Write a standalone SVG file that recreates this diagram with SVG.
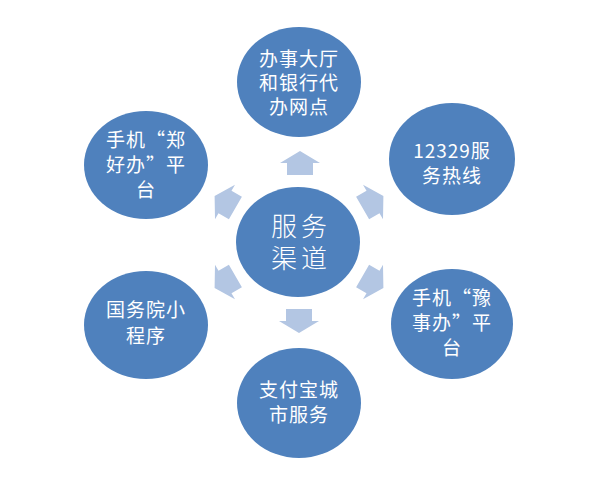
<svg xmlns="http://www.w3.org/2000/svg" width="602" height="481" viewBox="0 0 602 481">
<defs>
<style>
.node{fill:#4F81BD;}
.arr{fill:#B3C6E3;}
.t{fill:#FFFFFF;font-family:"Noto Sans CJK SC","Liberation Sans",sans-serif;font-size:19px;text-anchor:middle;letter-spacing:1px;}
.big{font-size:26px;letter-spacing:4px;font-weight:300;}
</style>
<path id="arrow" d="M0,-12 L20,0 L13,0 L13,12 L-13,12 L-13,0 L-20,0 Z"/>
</defs>
<rect width="602" height="481" fill="#FFFFFF"/>
<g id="connectors">
<use href="#arrow" class="arr" transform="translate(300,163)"/>
<use href="#arrow" class="arr" transform="translate(373,202) rotate(60)"/>
<use href="#arrow" class="arr" transform="translate(373,282) rotate(120)"/>
<use href="#arrow" class="arr" transform="translate(299,321) rotate(180)"/>
<use href="#arrow" class="arr" transform="translate(225,282) rotate(-120)"/>
<use href="#arrow" class="arr" transform="translate(225,202) rotate(-60)"/>
</g>
<g id="center">
<ellipse class="node" cx="298" cy="242" rx="62" ry="55"/>
<text class="t big" x="301" y="236">服务</text>
<text class="t big" x="301" y="268">渠道</text>
</g>
<g id="node-top">
<ellipse class="node" cx="299" cy="82" rx="62" ry="55"/>
<text class="t" x="299" y="66">办事大厅</text>
<text class="t" x="299" y="90">和银行代</text>
<text class="t" x="299" y="114">办网点</text>
</g>
<g id="node-right-top">
<ellipse class="node" cx="452" cy="159" rx="63" ry="56"/>
<text class="t" x="452" y="158">12329服</text>
<text class="t" x="452" y="183">务热线</text>
</g>
<g id="node-right-bottom">
<ellipse class="node" cx="452" cy="324" rx="61" ry="55"/>
<text class="t" x="452" y="305">手机“豫</text>
<text class="t" x="452" y="330">事办”平</text>
<text class="t" x="452" y="355">台</text>
</g>
<g id="node-bottom">
<ellipse class="node" cx="299" cy="403" rx="62" ry="55"/>
<text class="t" x="299" y="397">支付宝城</text>
<text class="t" x="299" y="422">市服务</text>
</g>
<g id="node-left-bottom">
<ellipse class="node" cx="146" cy="325" rx="62" ry="54"/>
<text class="t" x="146" y="317">国务院小</text>
<text class="t" x="146" y="343">程序</text>
</g>
<g id="node-left-top">
<ellipse class="node" cx="146" cy="165" rx="62" ry="54"/>
<text class="t" x="146" y="147">手机“郑</text>
<text class="t" x="146" y="172">好办”平</text>
<text class="t" x="146" y="197">台</text>
</g>
</svg>
